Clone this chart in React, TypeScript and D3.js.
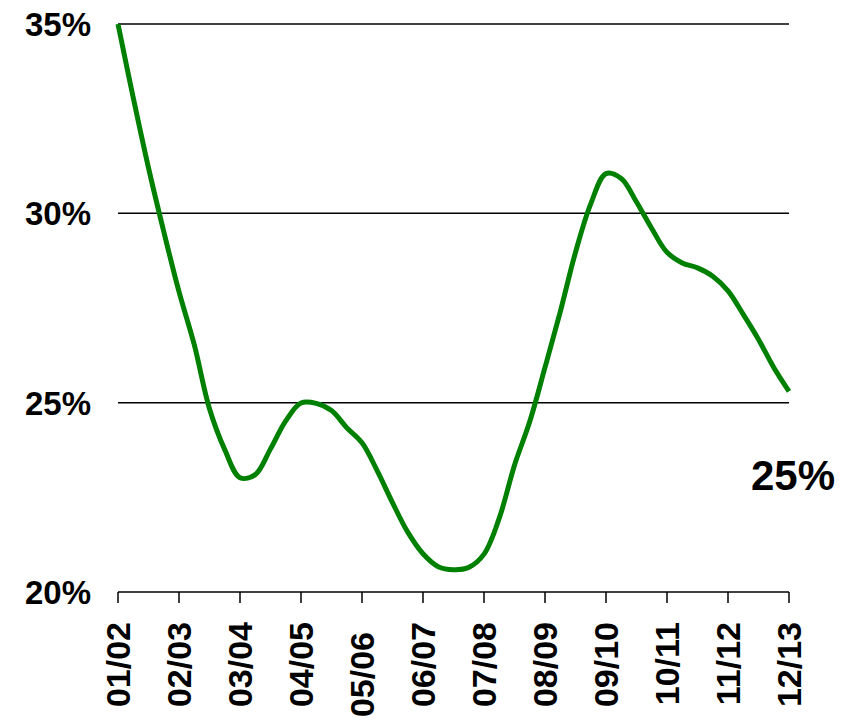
import React from "react";
import * as d3 from "d3";

// Fiscal-year categories (x tick labels)
const categories = ["01/02", "02/03", "03/04", "04/05", "05/06", "06/07", "07/08", "08/09", "09/10", "10/11", "11/12", "12/13"];

// Y axis ticks (percent)
const yTicks = [20, 25, 30, 35];

// Quarterly readings of the series (percent), starting at 01/02 and ending at 12/13
const shareSeries = [
  35.0, 33.05, 31.2, 29.52,
  27.93, 26.53, 24.84, 23.76,
  23.02, 23.1, 23.78, 24.52,
  24.99, 24.98, 24.79, 24.34,
  23.94, 23.2, 22.36, 21.58,
  21.01, 20.67, 20.59, 20.65,
  21.0, 21.95, 23.35, 24.5,
  25.93, 27.4, 28.97, 30.25,
  31.05, 30.92, 30.3, 29.6,
  28.97, 28.69, 28.56, 28.34,
  27.95, 27.33, 26.67, 25.93,
  25.3,
];

const endLabel = "25%";

const W = 856;
const H = 720;
const left = 118;
const right = 789;
const top = 24;
const bottom = 592;

export default function App() {
  const x = d3.scaleLinear().domain([0, categories.length - 1]).range([left, right]);
  const y = d3.scaleLinear().domain([20, 35]).range([bottom, top]);
  const stepsPerYear = (shareSeries.length - 1) / (categories.length - 1);

  const line = d3
    .line<number>()
    .x((_, i) => x(i / stepsPerYear))
    .y((d) => y(d))
    .curve(d3.curveCatmullRom.alpha(0.5));

  const font = "'Liberation Sans', Arial, sans-serif";

  return (
    <svg
      width={W}
      height={H}
      style={{ position: "absolute", left: 0, top: 0, background: "#fff" }}
      fontFamily={font}
    >
      {/* gridlines */}
      {yTicks
        .filter((t) => t !== 20)
        .map((t) => (
          <line key={t} x1={left} x2={right} y1={y(t)} y2={y(t)} stroke="#000" strokeWidth={1.5} />
        ))}
      {/* x axis */}
      <line x1={left} x2={right} y1={y(20)} y2={y(20)} stroke="#000" strokeWidth={1.5} />
      {categories.map((c, i) => (
        <line key={"t" + c} x1={x(i)} x2={x(i)} y1={y(20)} y2={y(20) + 11} stroke="#000" strokeWidth={1.5} />
      ))}
      {/* y labels */}
      {yTicks.map((t) => (
        <text
          key={"yl" + t}
          x={91}
          y={y(t)}
          dy="0.36em"
          textAnchor="end"
          fontSize={33}
          fontWeight="bold"
          fill="#000"
        >
          {t}%
        </text>
      ))}
      {/* x labels */}
      {categories.map((c, i) => (
        <text
          key={"xl" + c}
          transform={`translate(${x(i)},${i === 4 ? 632 : 622}) rotate(-90)`}
          dy="0.36em"
          textAnchor="end"
          fontSize={34}
          fontWeight="bold"
          fill="#000"
        >
          {c}
        </text>
      ))}
      {/* series */}
      <path d={line(shareSeries) || ""} fill="none" stroke="#008000" strokeWidth={5} strokeLinejoin="round" />
      {/* end label */}
      <text x={751} y={490} fontSize={42} fontWeight="bold" fill="#000">
        {endLabel}
      </text>
    </svg>
  );
}
